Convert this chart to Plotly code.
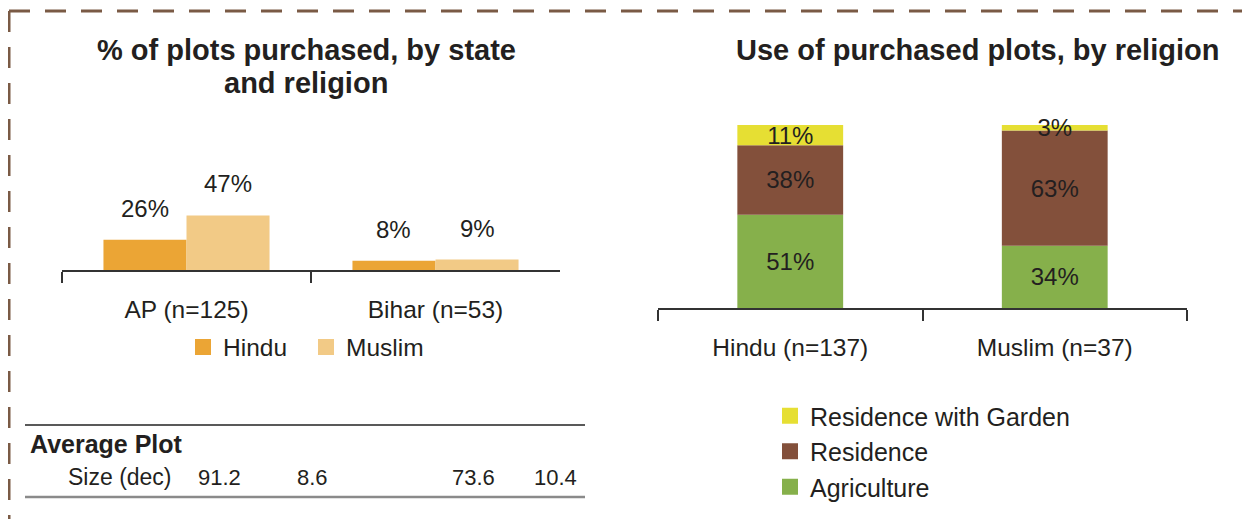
import plotly.graph_objects as go
import numpy as np

# ---------------- data ----------------
states = ["AP (n=125)", "Bihar (n=53)"]
hindu_pct = [26, 8]
muslim_pct = [47, 9]

religions = ["Hindu (n=137)", "Muslim (n=37)"]
agriculture = [51, 34]
residence = [38, 63]
residence_garden = [11, 3]

left_title_lines = ["% of plots purchased, by state", "and religion"]
right_title = "Use of purchased plots, by religion"
table_row_1 = "Average Plot"
table_row_2 = "Size (dec)"
avg_plot_size = ["91.2", "8.6", "73.6", "10.4"]

# ---------------- style ----------------
W, H = 1250, 519
PAGE_OFF = 8  # default body margin of the html page
FONT = "Liberation Sans, Arial, Helvetica, sans-serif"
TXT = "#231F20"
HINDU_C = "#EBA535"
MUSLIM_C = "#F2CA86"
GARDEN_C = "#E6DF33"
RES_C = "#83503B"
AGRI_C = "#86B04B"
BORDER_C = "#7A5A45"


def fx(p):
    return (p - PAGE_OFF) / W


def fy(p):
    return 1 - (p - PAGE_OFF) / H


fig = go.Figure()

# ---- left: grouped bars ----
fig.add_trace(go.Bar(x=states, y=hindu_pct, name="Hindu", marker_color=HINDU_C,
                     marker_line_width=0, xaxis="x", yaxis="y", showlegend=False,
                     hoverinfo="skip"))
fig.add_trace(go.Bar(x=states, y=muslim_pct, name="Muslim", marker_color=MUSLIM_C,
                     marker_line_width=0, xaxis="x", yaxis="y", showlegend=False,
                     hoverinfo="skip"))

# ---- right: stacked bars (using base + shared offsetgroup) ----
agri = np.array(agriculture)
res = np.array(residence)
gar = np.array(residence_garden)
segments = [
    ("Agriculture", agri, np.zeros_like(agri), AGRI_C),
    ("Residence", res, agri, RES_C),
    ("Residence with Garden", gar, agri + res, GARDEN_C),
]
for name, vals, base, col in segments:
    fig.add_trace(go.Bar(
        x=religions, y=vals, base=base, name=name, marker_color=col,
        marker_line_width=0, xaxis="x2", yaxis="y2", offsetgroup="stack",
        width=0.4, offset=-0.2, showlegend=False, hoverinfo="skip",
        text=[f"{v}%" for v in vals], textposition="inside",
        insidetextanchor="middle", textangle=0, constraintext="none",
        insidetextfont=dict(family=FONT, size=24, color=TXT), cliponaxis=False,
    ))

# ---- legend-only entries ----
for name, col in [("Hindu", HINDU_C), ("Muslim", MUSLIM_C)]:
    fig.add_trace(go.Scatter(x=[None], y=[None], mode="markers", name=name,
                             marker=dict(symbol="square", size=18, color=col),
                             xaxis="x", yaxis="y", legend="legend"))
for name, col in [("Residence with Garden", GARDEN_C), ("Residence", RES_C),
                  ("Agriculture", AGRI_C)]:
    fig.add_trace(go.Scatter(x=[None], y=[None], mode="markers", name=name,
                             legendgroup=name,
                             marker=dict(symbol="square", size=18, color=col),
                             xaxis="x2", yaxis="y2", legend="legend2"))

# ---- value labels above left bars ----
cat_px = (560 - 62) / len(states)
bargap = 0.333
half = (1 - bargap) * cat_px / 4
annotations = []
for s, hv, mv in zip(states, hindu_pct, muslim_pct):
    for v, sh in [(hv, -half), (mv, half)]:
        annotations.append(dict(x=s, y=v, xref="x", yref="y", text=f"{v}%",
                                showarrow=False, xshift=sh, yshift=16,
                                yanchor="bottom",
                                font=dict(family=FONT, size=24, color=TXT)))

# ---- titles ----
for line, ty in zip(left_title_lines, [50, 83]):
    annotations.append(dict(x=fx(306), y=fy(ty), xref="paper", yref="paper",
                            text=f"<b>{line}</b>", showarrow=False,
                            xanchor="center", yanchor="middle",
                            font=dict(family=FONT, size=29, color=TXT)))
annotations.append(dict(x=fx(977), y=fy(50), xref="paper", yref="paper",
                        text=f"<b>{right_title}</b>", showarrow=False,
                        xanchor="center", yanchor="middle",
                        font=dict(family=FONT, size=29, color=TXT)))

# ---- table ----
annotations.append(dict(x=fx(28), y=fy(444), xref="paper", yref="paper",
                        text=f"<b>{table_row_1}</b>", showarrow=False,
                        xanchor="left", yanchor="middle",
                        font=dict(family=FONT, size=25, color=TXT)))
annotations.append(dict(x=fx(66), y=fy(477), xref="paper", yref="paper",
                        text=table_row_2, showarrow=False,
                        xanchor="left", yanchor="middle",
                        font=dict(family=FONT, size=23, color=TXT)))
for v, cx in zip(avg_plot_size, [219, 312, 473, 555]):
    annotations.append(dict(x=fx(cx), y=fy(477), xref="paper", yref="paper",
                            text=v, showarrow=False, xanchor="center",
                            yanchor="middle",
                            font=dict(family=FONT, size=22, color=TXT)))

shapes = [
    dict(type="line", xref="paper", yref="paper", x0=fx(25), x1=fx(585),
         y0=fy(425), y1=fy(425), line=dict(color="#222", width=1.5)),
    dict(type="line", xref="paper", yref="paper", x0=fx(25), x1=fx(585),
         y0=fy(497), y1=fy(497), line=dict(color="#8a8a8a", width=2.5)),
    dict(type="line", xref="paper", yref="paper", x0=fx(9), x1=fx(1258),
         y0=fy(11), y1=fy(11), line=dict(color=BORDER_C, width=3, dash="21px,15px")),
    dict(type="line", xref="paper", yref="paper", x0=fx(9), x1=fx(9),
         y0=fy(11), y1=fy(527), line=dict(color=BORDER_C, width=3, dash="21px,15px")),
]

axis_common = dict(type="category", showgrid=False, zeroline=False,
                   showline=True, linecolor="#333", linewidth=2,
                   ticks="outside", tickson="boundaries", ticklen=11,
                   tickwidth=2, tickcolor="#333", ticklabelstandoff=17,
                   tickfont=dict(family=FONT, size=24.5, color=TXT))

fig.update_layout(
    width=W, height=H,
    margin=dict(l=0, r=0, t=0, b=0),
    paper_bgcolor="white", plot_bgcolor="white",
    barmode="group", bargap=bargap, bargroupgap=0,
    font=dict(family=FONT, color=TXT),
    xaxis=dict(domain=[fx(62), fx(560)], anchor="y", **axis_common),
    yaxis=dict(domain=[fy(270), fy(212)], range=[0, 50], visible=False,
               anchor="x"),
    xaxis2=dict(domain=[fx(658), fx(1187)], anchor="y2", **axis_common),
    yaxis2=dict(domain=[fy(308), fy(125)], range=[0, 100], visible=False,
                anchor="x2"),
    legend=dict(orientation="h", x=fx(306), xanchor="center", y=fy(347),
                yanchor="middle", font=dict(family=FONT, size=24.5, color=TXT),
                entrywidth=78, entrywidthmode="pixels",
                bgcolor="rgba(0,0,0,0)", itemclick=False, itemdoubleclick=False),
    legend2=dict(orientation="v", x=fx(770), xanchor="left", y=fy(393),
                 yanchor="top", font=dict(family=FONT, size=25, color=TXT),
                 bgcolor="rgba(0,0,0,0)", tracegroupgap=0,
                 itemclick=False, itemdoubleclick=False),
    annotations=annotations,
    shapes=shapes,
    showlegend=True,
)

fig.write_html("out.html")
